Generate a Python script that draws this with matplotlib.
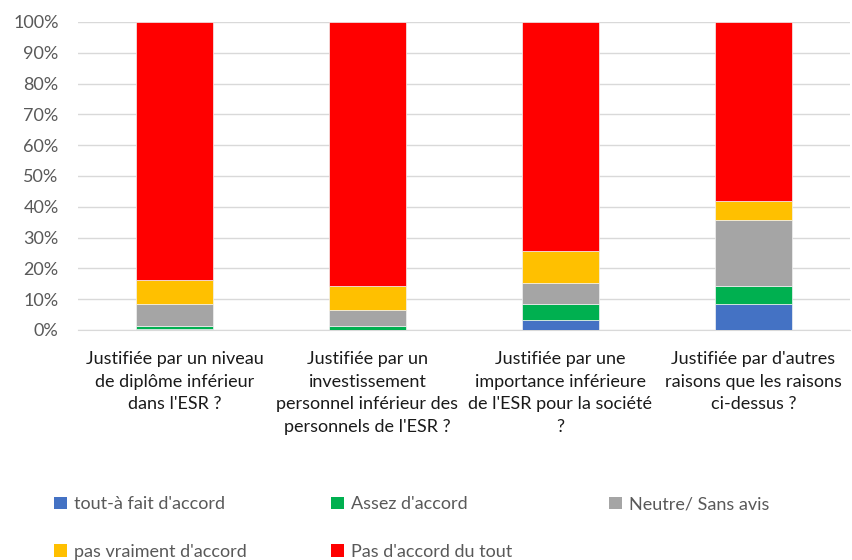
import matplotlib
matplotlib.use("Agg")
import matplotlib.pyplot as plt
from matplotlib.patches import Patch
import numpy as np

categories = [
    "Justifiée par un niveau\nde diplôme inférieur\ndans l'ESR ?",
    "Justifiée par un\ninvestissement\npersonnel inférieur des\npersonnels de l'ESR ?",
    "Justifiée par une\nimportance inférieure\nde l'ESR pour la société\n?",
    "Justifiée par d'autres\nraisons que les raisons\nci-dessus ?",
]
series_names = ["tout-à fait d'accord", "Assez d'accord", "Neutre/ Sans avis",
                "pas vraiment d'accord", "Pas d'accord du tout"]
tout_a_fait = [0.4, 0.0, 3.2, 8.4]
assez = [0.9, 1.3, 5.2, 6.0]
neutre = [7.0, 5.3, 6.8, 21.3]
pas_vraiment = [7.9, 7.8, 10.4, 6.1]
pas_du_tout = [83.8, 85.6, 74.4, 58.2]
colors = ["#4472C4", "#00B050", "#A5A5A5", "#FFC000", "#FF0000"]
yticks = [0, 10, 20, 30, 40, 50, 60, 70, 80, 90, 100]

plt.rcParams['font.family'] = ['Lato', 'DejaVu Sans']
FS = 13

fig = plt.figure(figsize=(8.52, 5.6), dpi=100)
ax = fig.add_axes([78/852, 1-330/560, 772/852, 308/560])

data = [tout_a_fait, assez, neutre, pas_vraiment, pas_du_tout]
x = np.arange(len(categories))
bottom = np.zeros(len(categories))
for vals, c in zip(data, colors):
    ax.bar(x, vals, 0.4, bottom=bottom, color=c, edgecolor='#f2f2f2', linewidth=0.5, zorder=3)
    bottom += np.array(vals)

ax.set_xlim(-0.5, len(categories) - 0.5)
ax.set_ylim(0, 100)
ax.set_yticks(yticks)
ax.set_yticklabels([f"{v}%" for v in yticks], fontsize=FS, color='#595959')
ax.yaxis.grid(True, color='#d9d9d9', linewidth=1, zorder=0)
ax.tick_params(axis='y', length=0, pad=14)
ax.tick_params(axis='x', length=0, pad=15)
ax.set_xticks(x)
ax.set_xticklabels(categories, fontsize=FS, color='#1a1a1a', linespacing=1.52)
for s in ['top', 'right', 'left']:
    ax.spines[s].set_visible(False)
ax.spines['bottom'].set_color('#d9d9d9')

handles = [Patch(facecolor=c, label=n) for c, n in zip(colors, series_names)]
columns = [[0, 3], [1, 4], [2]]
col_x = [38, 315, 593]
for cx, idxs in zip(col_x, columns):
    fig.legend([handles[i] for i in idxs], [series_names[i] for i in idxs],
               loc='upper left', bbox_to_anchor=(cx/852, 1-480/560), ncol=1,
               frameon=False, fontsize=FS, handlelength=0.7, handleheight=0.7,
               handletextpad=0.4, labelspacing=1.75, labelcolor='#595959')

fig.savefig("out.png", dpi=100)
